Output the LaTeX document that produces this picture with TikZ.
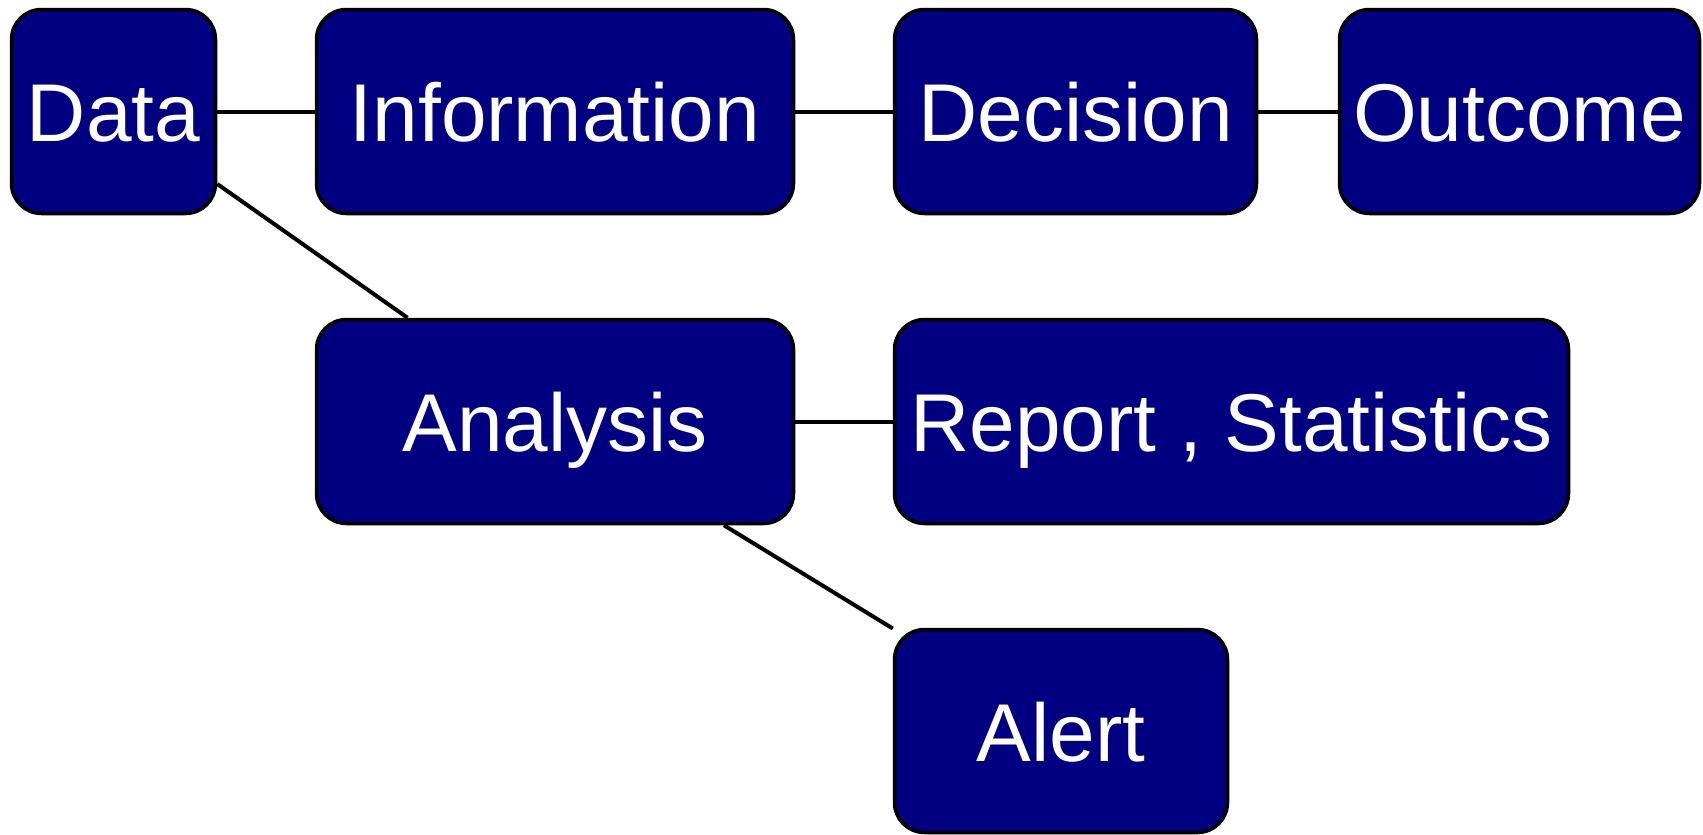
\documentclass[tikz,border=0pt]{standalone}
\usepackage{fontspec}
\setmainfont{Liberation Sans}
\definecolor{navyfill}{RGB}{0,0,128}
\begin{document}
\begin{tikzpicture}[x=1pt,y=-1pt,
  box/.style={draw=black, line width=3.5pt, fill=navyfill, rounded corners=30pt,
    text=white, inner sep=0pt, minimum height=204pt,
    text height=62pt, text depth=2pt,
    font=\fontsize{82}{96}\selectfont},
  link/.style={draw=black, line width=4pt}]
\useasboundingbox (0,0) rectangle (1703,835);
\node[box, minimum width=204pt] (data) at (113.5,111.5) {Data};
\node[box, minimum width=477pt] (info) at (555,111.5) {Information};
\node[box, minimum width=362pt] (dec) at (1075.5,111.5) {Decision};
\node[box, minimum width=360pt] (out) at (1519.5,111.5) {Outcome};
\node[box, minimum width=477pt] (ana) at (555,421.5) {Analysis};
\node[box, minimum width=674pt] (rep) at (1231.5,421.5) {Report , Statistics};
\node[box, minimum width=333pt, minimum height=203pt] (alert) at (1061,731) {Alert};
\draw[link] (data) -- (info);
\draw[link] (info) -- (dec);
\draw[link] (dec) -- (out);
\draw[link] (data) -- (ana);
\draw[link] (ana) -- (rep);
\draw[link] (ana) -- (alert);
\end{tikzpicture}
\end{document}
